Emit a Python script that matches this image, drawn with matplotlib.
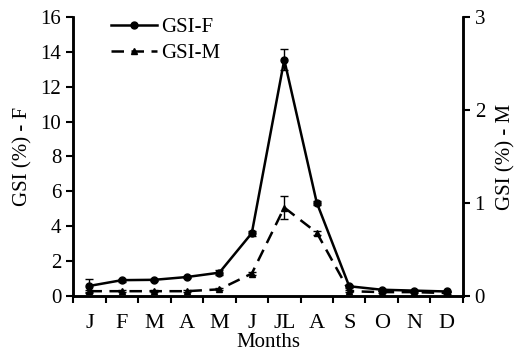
import matplotlib
matplotlib.use('Agg')
import matplotlib.pyplot as plt
from matplotlib.lines import Line2D
import numpy as np

plt.rcParams['font.family'] = ['Liberation Serif', 'DejaVu Serif']

# data
months = ['J', 'F', 'M', 'A', 'M', 'J', 'JL', 'A', 'S', 'O', 'N', 'D']
gsi_f = [0.57, 0.9, 0.92, 1.08, 1.33, 3.6, 13.55, 5.35, 0.55, 0.35, 0.3, 0.25]
gsi_f_err = [0.4, 0.08, 0.06, 0.08, 0.15, 0.15, 0.6, 0.12, 0.08, 0.05, 0.05, 0.04]
gsi_m = [0.05, 0.05, 0.05, 0.05, 0.07, 0.24, 0.95, 0.68, 0.05, 0.04, 0.04, 0.03]
gsi_m_err = [0.01, 0.01, 0.01, 0.01, 0.01, 0.02, 0.12, 0.02, 0.01, 0.01, 0.01, 0.01]

x = np.arange(len(months)) + 0.5
dash = (0, (5, 3))

fig = plt.figure(figsize=(5.23, 3.56), dpi=100)
ax = fig.add_axes([0.14, 0.169, 0.745, 0.783])
ax2 = ax.twinx()

ax.errorbar(x, gsi_f, yerr=gsi_f_err, color='black', lw=1.8, marker='o', ms=5,
            capsize=3, elinewidth=1)
ax2.errorbar(x, gsi_m, yerr=gsi_m_err, color='black', lw=1.8, ls=dash,
             marker='^', ms=5, capsize=3, elinewidth=1)

ax.set_xlim(0, 12)
ax.set_ylim(0, 16)
ax.set_yticks(range(0, 17, 2))
ax2.set_ylim(0, 3)
ax2.set_yticks([0, 1, 2, 3])

ax.set_xticks(np.arange(0, 13), minor=False)
ax.set_xticklabels([])
ax.set_xticks(x, minor=True)
ax.set_xticklabels(months, minor=True, fontsize=16)
ax.tick_params(axis='x', which='minor', length=0, pad=13)
ax.tick_params(axis='x', which='major', length=5, width=1.5, direction='out')
ax.tick_params(axis='y', length=5, width=1.5, labelsize=15)
ax2.tick_params(axis='y', length=5, width=1.5, labelsize=15)

for a in (ax, ax2):
    a.spines['top'].set_visible(False)
    for s in ('left', 'right', 'bottom'):
        a.spines[s].set_linewidth(1.8)

ax.set_xlabel('Months', fontsize=15, labelpad=0)
ax.set_ylabel('GSI (%) - F', fontsize=15, labelpad=6)
ax2.set_ylabel('GSI (%) - M', fontsize=15, labelpad=8)

handles = [Line2D([], [], color='black', lw=1.8, marker='o', ms=5),
           Line2D([], [], color='black', lw=1.8, ls=dash, marker='^', ms=5)]
ax.legend(handles, ['GSI-F', 'GSI-M'], loc='upper left',
          bbox_to_anchor=(0.05, 1.065), frameon=False, fontsize=15,
          handlelength=2.2, handletextpad=0.2, labelspacing=0.3)

fig.savefig('out.png', dpi=100)
